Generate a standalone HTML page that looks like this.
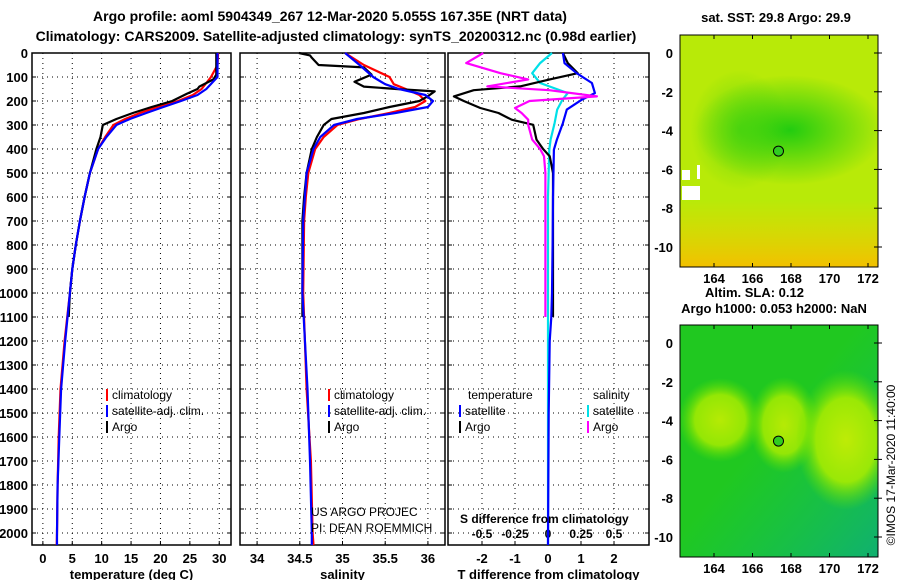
<!DOCTYPE html>
<html><head><meta charset="utf-8"><style>
html,body{margin:0;padding:0;background:#fff;width:900px;height:580px;overflow:hidden}
svg{display:block;font-family:"Liberation Sans",Arial,sans-serif}
.b{font-weight:bold}
</style></head><body>
<svg id="c" width="900" height="580" viewBox="0 0 900 580">
<defs>
<radialGradient id="g1" cx="0.5" cy="0.5" r="0.5"><stop offset="0" stop-color="#22cc10"/><stop offset="1" stop-color="#22cc10" stop-opacity="0"/></radialGradient>
<linearGradient id="g2" x1="0" y1="0" x2="0" y2="1"><stop offset="0" stop-color="#f0d000" stop-opacity="0"/><stop offset="1" stop-color="#f2c000"/></linearGradient>
<radialGradient id="y1" cx="0.5" cy="0.5" r="0.5"><stop offset="0" stop-color="#d0f000"/><stop offset="0.6" stop-color="#a8ec00"/><stop offset="1" stop-color="#60e000" stop-opacity="0"/></radialGradient>
<linearGradient id="tl" x1="0" y1="0" x2="1" y2="1"><stop offset="0.45" stop-color="#10c060" stop-opacity="0"/><stop offset="1" stop-color="#10b070"/></linearGradient>
<clipPath id="cm1"><rect x="680" y="35" width="198" height="232"/></clipPath>
<clipPath id="cm2"><rect x="680" y="325" width="198" height="232"/></clipPath>
</defs>
<text class="b" x="330" y="21" font-size="14" text-anchor="middle">Argo profile: aoml 5904349_267 12-Mar-2020 5.055S 167.35E (NRT data)</text>
<text class="b" x="336" y="41" font-size="14" text-anchor="middle">Climatology: CARS2009. Satellite-adjusted climatology: synTS_20200312.nc (0.98d earlier)</text>

<g clip-path="url(#cm1)">
<rect x="680" y="35" width="198" height="232" fill="#b8ea08"/>
<ellipse cx="790" cy="130" rx="95" ry="55" fill="url(#g1)"/>
<ellipse cx="740" cy="130" rx="50" ry="60" fill="url(#g1)" opacity="0.5"/>
<rect x="680" y="200" width="198" height="67" fill="url(#g2)"/>
<rect x="682" y="170" width="8" height="10" fill="#fff"/>
<rect x="682" y="186" width="18" height="14" fill="#fff"/>
<rect x="697" y="165" width="3" height="14" fill="#fff"/>
</g>
<rect x="680" y="35" width="198" height="232" fill="none" stroke="#000"/>
<g clip-path="url(#cm2)">
<rect x="680" y="325" width="198" height="232" fill="#20c820"/>
<rect x="680" y="325" width="198" height="232" fill="url(#tl)"/>
<ellipse cx="720" cy="420" rx="42" ry="42" fill="url(#y1)" opacity="0.85"/>
<ellipse cx="784" cy="425" rx="35" ry="48" fill="url(#y1)" opacity="0.85"/>
<ellipse cx="846" cy="440" rx="50" ry="70" fill="url(#y1)" opacity="0.9"/>
</g>
<rect x="680" y="325" width="198" height="232" fill="none" stroke="#000"/>
<text class="b" x="776" y="22" font-size="13" text-anchor="middle">sat. SST: 29.8 Argo: 29.9</text>
<text class="b" x="705" y="297" font-size="13">Altim. SLA: 0.12</text>
<text class="b" x="774" y="313" font-size="13" text-anchor="middle">Argo h1000: 0.053 h2000: NaN</text>
<text x="895" y="465" font-size="12" text-anchor="middle" transform="rotate(-90 895 465)">©IMOS 17-Mar-2020 11:40:00</text>

<g id="plots"></g>
<text x="311" y="516" font-size="12">US ARGO PROJEC</text>
<text x="311" y="532" font-size="12">PI: DEAN ROEMMICH</text>
<text class="b" x="460" y="523" font-size="12">S difference from climatology</text>
</svg>
<script>
// ---- data ----
const tDepth=[0,50,100,150,175,200,225,250,275,300,350,400,500,600,700,800,900,1000,1200,1400,1600,1800,2000,2050];
const tClim=[29.8,29.7,28.6,27.0,25.5,23.0,19.5,16.5,14.0,12.0,10.6,9.4,8.0,7.1,6.3,5.6,5.0,4.6,3.7,3.0,2.7,2.5,2.4,2.35];
const tSat=[29.7,29.7,29.7,27.8,26.3,23.5,20.5,17.6,14.8,12.5,10.8,9.4,8.0,7.1,6.3,5.6,5.0,4.6,3.8,3.1,2.8,2.5,2.4,2.4];
const aDepth=[0,50,90,110,140,150,170,200,225,250,275,300,350,400,500,600,700,800,900,1000,1100];
const tArgo=[29.5,29.5,29.5,29.0,26.6,26.3,24.5,22.0,18.5,15.3,12.5,10.2,9.8,9.1,8.0,7.1,6.3,5.6,5.0,4.6,4.4];
const sDepth=[0,50,100,130,150,175,200,225,250,275,300,350,400,500,600,700,1000,1400,1700,2000,2050];
const sClim=[35.03,35.25,35.55,35.6,35.74,35.9,35.97,35.85,35.55,35.2,34.94,34.78,34.68,34.6,34.57,34.55,34.54,34.58,34.63,34.65,34.66];
const sSat=[35.03,35.2,35.36,35.5,35.66,35.97,36.06,36.0,35.62,35.17,34.9,34.74,34.66,34.58,34.56,34.54,34.53,34.59,34.62,34.64,34.64];
const saDepth=[0,10,20,50,60,90,120,140,150,160,180,200,225,250,275,300,350,400,500,600,700,1000,1100];
const sArgo=[34.49,34.62,34.64,34.72,35.25,35.34,35.14,35.25,35.63,36.08,36.0,35.9,35.55,35.25,34.87,34.78,34.7,34.64,34.58,34.55,34.53,34.53,34.53];
const dDepth=[0,42,84,125,167,194,236,292,361,403,600,800,1000,1100,1200,1500,2050];
const dTSat=[0.45,0.5,0.87,1.33,1.42,1.03,0.57,0.45,0.27,0.18,0.15,0.14,0.12,0.1,0.05,0.02,0.0];
const dSSat=[0.03,-0.06,-0.12,-0.06,0.15,0.11,0.07,0.05,0.02,0.01,0.0,0.0,0.0,0.0,0.0,0.0,0.0];
const daDepth=[0,42,84,110,139,155,181,200,229,250,278,299,361,400,430,500,700,900,1100];
const dTArgo=[0.45,0.6,0.9,0.05,-0.85,-2.25,-2.85,-2.55,-2.05,-1.5,-1.1,-0.45,-0.35,-0.15,0.05,0.15,0.15,0.15,0.15];
const dSArgo=[-0.49,-0.62,-0.36,-0.15,-0.46,0.01,0.37,-0.14,-0.25,-0.2,-0.15,-0.15,-0.12,-0.06,-0.03,-0.02,-0.02,-0.02,-0.02];
const depthTicks=[0,100,200,300,400,500,600,700,800,900,1000,1100,1200,1300,1400,1500,1600,1700,1800,1900,2000];
const tTicks=[0,5,10,15,20,25,30];
const sTicks=[34,34.5,35,35.5,36];
const dTicks=[-2,-1,0,1,2];
const sdTicks=[-0.5,-0.25,0,0.25,0.5];
const mapLonTicks=[164,166,168,170,172];
const mapLatTicks=[0,-2,-4,-6,-8,-10];
const argoLon=167.35, argoLat=-5.055;

const NS='http://www.w3.org/2000/svg';
const g=document.getElementById('plots');
function mk(tag,at,par){const e=document.createElementNS(NS,tag);for(const k in at)e.setAttribute(k,at[k]);(par||g).appendChild(e);return e;}
const Y0=53,Y1=545;
const yD=d=>Y0+(d/2050)*(Y1-Y0);
function panel(x0,x1,vmin,vmax,name){
  const sx=v=>x0+(v-vmin)/(vmax-vmin)*(x1-x0);
  return {x0,x1,sx,name};
}
const P1=panel(32,231,-1.85,32,'temperature');
const P2=panel(240,445,33.8,36.2,'salinity');
const P3=panel(448,649,-3.03,3.06,'tdiff');
function frame(P,ticks,fmt,title){
  const gg=mk('g',{});
  
  
  depthTicks.forEach(d=>{if(d>0)mk('line',{x1:P.x0,x2:P.x1,y1:yD(d),y2:yD(d),stroke:'#000','stroke-width':1,'stroke-dasharray':'1 4'},gg);
    mk('line',{x1:P.x0,x2:P.x0+4,y1:yD(d),y2:yD(d),stroke:'#000'},gg);mk('line',{x1:P.x1-4,x2:P.x1,y1:yD(d),y2:yD(d),stroke:'#000'},gg);});
  ticks.forEach(v=>{const x=P.sx(v);mk('line',{x1:x,x2:x,y1:Y0,y2:Y1,stroke:'#000','stroke-dasharray':'1 4'},gg);
    mk('line',{x1:x,x2:x,y1:Y1,y2:Y1-4,stroke:'#000'},gg);
    const t=mk('text',{x:x,y:563,'font-size':13,'text-anchor':'middle','class':'b'},gg);t.textContent=fmt(v);
    
    });
  mk('rect',{x:P.x0,y:Y0,width:P.x1-P.x0,height:Y1-Y0,fill:'none',stroke:'#000','stroke-width':1.5},gg);
  const tt=mk('text',{x:(P.x0+P.x1)/2,y:579,'font-size':13,'text-anchor':'middle','class':'b'},gg);tt.textContent=title;
  
  
}
frame(P1,tTicks,v=>String(v),'temperature (deg C)');
frame(P2,sTicks,v=>String(v),'salinity');
frame(P3,dTicks,v=>String(v),'T difference from climatology');
depthTicks.forEach(d=>{const t=mk('text',{x:28,y:yD(d)+5,'font-size':13,'text-anchor':'end','class':'b'});t.textContent=d;
  
  });
sdTicks.forEach(v=>{const t=mk('text',{x:P3.sx(v*4),y:538,'font-size':12,'text-anchor':'middle','class':'b'});t.textContent=String(v);
  
  });
function line(P,ds,vs,col,name,scale){
  const pts=ds.map((d,i)=>P.sx(vs[i]*(scale||1)).toFixed(1)+','+yD(d).toFixed(1)).join(' ');
  const e=mk('polyline',{points:pts,fill:'none',stroke:col,'stroke-width':2.2,'stroke-linejoin':'round'});
  
  
}
line(P1,tDepth,tClim,'#f00','temp-climatology-line');
line(P1,aDepth,tArgo,'#000','temp-argo-line');
line(P1,tDepth,tSat,'#00f','temp-satellite-line');
line(P2,sDepth,sClim,'#f00','sal-climatology-line');
line(P2,saDepth,sArgo,'#000','sal-argo-line');
line(P2,sDepth,sSat,'#00f','sal-satellite-line');
line(P3,dDepth,dSSat,'#00e0e8','sdiff-satellite-line',4);
line(P3,daDepth,dTArgo,'#000','tdiff-argo-line');
line(P3,dDepth,dTSat,'#00f','tdiff-satellite-line');
line(P3,daDepth,dSArgo,'#f0f','sdiff-argo-line',4);
function leg(x,y,col,label,name){
  mk('line',{x1:x,x2:x,y1:y-10,y2:y+2,stroke:col,'stroke-width':2});
  const t=mk('text',{x:x+5,y:y,'font-size':12});t.textContent=label;
  
  
}
leg(107,399,'#f00','climatology','legend-temp-climatology');
leg(107,415,'#00f','satellite-adj. clim.','legend-temp-satellite');
leg(107,431,'#000','Argo','legend-temp-argo');
leg(329,399,'#f00','climatology','legend-sal-climatology');
leg(329,415,'#00f','satellite-adj. clim.','legend-sal-satellite');
leg(329,431,'#000','Argo','legend-sal-argo');
const h1=mk('text',{x:468,y:399,'font-size':12});h1.textContent='temperature';


const h2=mk('text',{x:593,y:399,'font-size':12});h2.textContent='salinity';


leg(460,415,'#00f','satellite','legend-tdiff-satellite');
leg(460,431,'#000','Argo','legend-tdiff-argo');
leg(588,415,'#00e0e8','satellite','legend-sdiff-satellite');
leg(588,431,'#f0f','Argo','legend-sdiff-argo');
// maps
const lonX=l=>714+(l-164)*19.25;
const latY=(l,off)=>53+off-l*19.4;
[[0,'sst'],[290,'sla']].forEach(([off,nm])=>{
  mapLonTicks.forEach(l=>{const x=lonX(l);mk('line',{x1:x,x2:x,y1:35+off,y2:39+off,stroke:'#000'});mk('line',{x1:x,x2:x,y1:263+off,y2:267+off,stroke:'#000'});
    const t=mk('text',{x:x,y:283+off,'font-size':13,'text-anchor':'middle','class':'b'});t.textContent=l;
    
    });
  mapLatTicks.forEach(l=>{const y=latY(l,off);mk('line',{x1:874,x2:882,y1:y,y2:y,stroke:'#000'});
    const t=mk('text',{x:673,y:y+5,'font-size':13,'text-anchor':'end','class':'b'});t.textContent=l;
    
    });
  const c=mk('circle',{cx:lonX(argoLon),cy:latY(argoLat,off),r:5,fill:'#30cc20',stroke:'#000','stroke-width':1});
  
  
});
</script>
</body></html>
